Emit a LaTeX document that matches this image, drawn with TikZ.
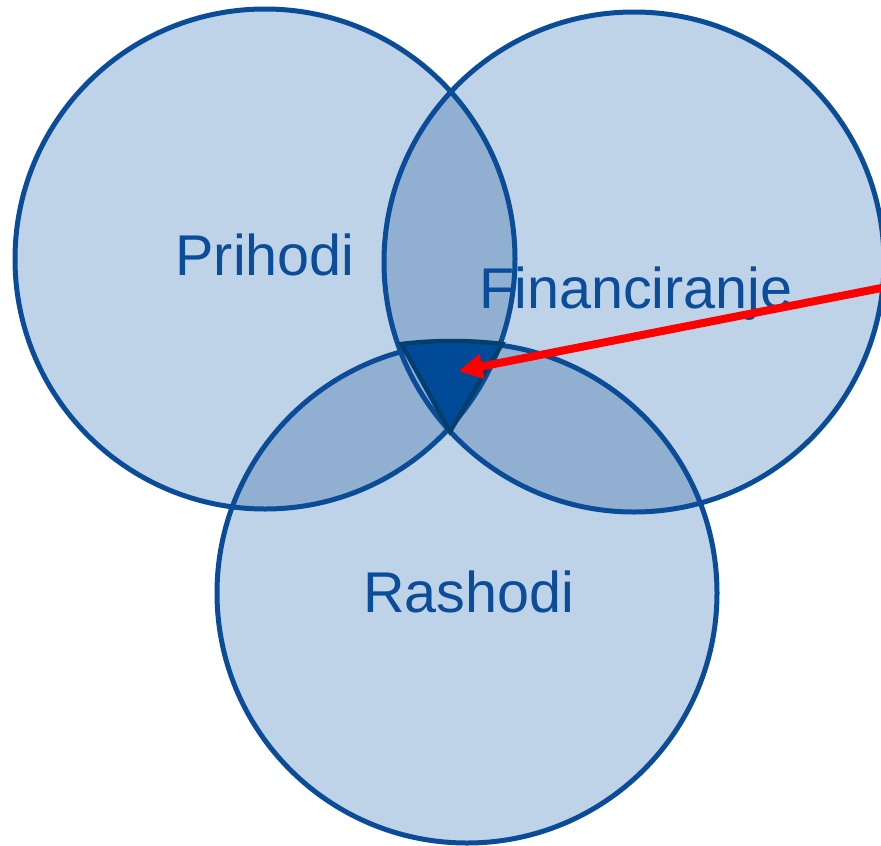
\documentclass[tikz,border=0pt]{standalone}
\usepackage{fontspec}
\setmainfont{Liberation Sans}
\usetikzlibrary{arrows.meta}
\definecolor{lightfill}{HTML}{BFD3E8}
\definecolor{midfill}{HTML}{91AFD1}
\definecolor{darkfill}{HTML}{004A98}
\definecolor{ringblue}{HTML}{0A4C98}
\definecolor{textblue}{HTML}{0B4D99}
\definecolor{triline}{HTML}{033F6C}
\definecolor{arrowred}{HTML}{FF0000}
\tikzset{
  ring/.style={draw=ringblue, line width=5pt},
  label/.style={text=textblue, font=\fontsize{57.5}{60}\selectfont, inner sep=0pt, anchor=base},
  pointer/.style={draw=arrowred, line width=8pt, -{Triangle[length=24pt, width=24pt]}},
}
\begin{document}
\begin{tikzpicture}[x=1pt, y=-1pt]
\useasboundingbox (0,0) rectangle (881,846);
\coordinate (c1) at (265,259);
\coordinate (c2) at (634,262);
\coordinate (c3) at (467,593);
% base fills
\fill[lightfill] (c1) circle[radius=250pt];
\fill[lightfill] (c2) circle[radius=250pt];
\fill[lightfill] (c3) circle[radius=250pt];
% pairwise overlaps
\begin{scope}
  \clip (c1) circle[radius=250pt];
  \fill[midfill] (c2) circle[radius=250pt];
  \fill[midfill] (c3) circle[radius=250pt];
\end{scope}
\begin{scope}
  \clip (c2) circle[radius=250pt];
  \fill[midfill] (c3) circle[radius=250pt];
\end{scope}
% labels
\node[label] (prihodi) at (265,275) {Prihodi};
\node[label] (fin) at (636,308) {Financiranje};
\node[label] (rashodi) at (468.5,612) {Rashodi};
% outlines
\draw[ring] (c1) circle[radius=250pt];
\draw[ring] (c2) circle[radius=250pt];
\draw[ring] (c3) circle[radius=250pt];
% central triangle
\coordinate (t1) at (401.5,344);
\coordinate (t2) at (502,344);
\coordinate (t3) at (450,431.5);
\draw[triline, fill=darkfill, line width=4.5pt] (t1) .. controls (435,340) and (469,340) .. (t2) -- (t3) -- cycle;
% arrow
\coordinate (astart) at (884,287.5);
\coordinate (atip) at (458.5,371);
\draw[pointer] (astart) -- (atip);
\end{tikzpicture}
\end{document}
